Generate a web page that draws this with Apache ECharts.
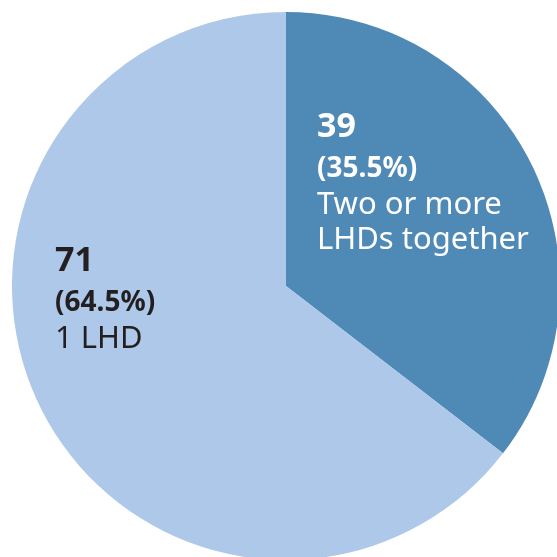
<!DOCTYPE html>
<html>
<head>
<meta charset="utf-8">
<script src="https://cdn.jsdelivr.net/npm/echarts@6/dist/echarts.min.js"></script>
<style>
  html, body { margin: 0; padding: 0; background: #fff; }
  #chart { width: 557px; height: 557px; }
</style>
</head>
<body>
<div id="chart"></div>
<script>
// data
var categories = ["Two or more\nLHDs together", "1 LHD"];
var values = [39, 71];
var percents = ["35.5%", "64.5%"];
var colors = ["#4f89b6", "#aec8e9"];
var labelColors = ["#ffffff", "#231f20"];
// where each label block starts (top-left)
var labelSpots = [[317, 104], [55, 238]];

var myChart = echarts.init(document.getElementById("chart"));
myChart.setOption({
  animation: false,
  series: [
    {
      type: "pie",
      center: [286, 286],
      radius: 274,
      startAngle: 90,
      clockwise: true,
      silent: true,
      data: values.map(function (v, i) {
        return {
          name: categories[i],
          value: v,
          itemStyle: { color: colors[i] },
          label: { color: labelColors[i] }
        };
      }),
      label: {
        show: true,
        position: "inside",
        fontFamily: "Noto Sans",
        formatter: function (p) {
          return "{v|" + p.value + "}\n{p|(" + percents[p.dataIndex] + ")}\n{n|" +
            p.name.split("\n").join("}\n{n|") + "}";
        },
        rich: {
          v: { fontSize: 34, fontWeight: "bold", lineHeight: 47, fontFamily: "Noto Sans" },
          p: { fontSize: 28, fontWeight: "bold", lineHeight: 37, fontFamily: "Noto Sans" },
          n: { fontSize: 31, lineHeight: 35, fontFamily: "Noto Sans" }
        }
      },
      labelLine: { show: false },
      labelLayout: function (params) {
        var s = labelSpots[params.dataIndex];
        return { x: s[0], y: s[1], align: "left", verticalAlign: "top" };
      }
    }
  ]
});
</script>
</body>
</html>
